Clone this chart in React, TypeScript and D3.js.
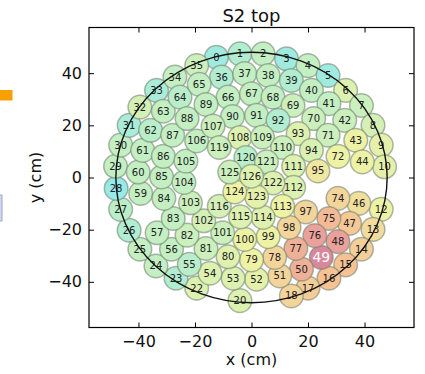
import React, { useEffect, useRef } from "react";
import * as d3 from "d3";

// module numbers and their centres (cm)
const moduleIds = [
  0, 1, 2, 3, 4, 5, 6, 7, 8, 9, 10, 12, 13, 14, 15, 16, 17, 18, 20, 22, 23, 24, 25, 26, 27, 28, 29, 30, 31, 32, 33, 34, 35,
  36, 37, 38, 39, 40, 41, 42, 43, 44, 46, 47, 48, 49, 50, 51, 52, 53, 54, 55, 56, 57, 59, 60, 61, 62, 63, 64, 65,
  66, 67, 68, 69, 70, 71, 72, 74, 75, 76, 77, 78, 79, 80, 81, 82, 83, 84, 85, 86, 87, 88, 89,
  90, 91, 92, 93, 94, 95, 97, 98, 99, 100, 101, 102, 103, 104, 105, 106, 107,
  108, 109, 110, 111, 112, 113, 114, 115, 116, 119,
  120, 121, 122, 123, 124, 125, 126,
];

const xCm = [
  -12.4, -4.1, 4.1, 12.4, 20.0, 27.1, 33.3, 38.9, 43.0, 45.9, 47.1, 45.9, 43.0, 38.9, 33.3, 27.4, 20.0, 14.1, -4.1, -19.4, -26.7, -33.8, -39.5, -43.3, -46.3, -47.9, -48.1, -46.3, -43.3, -39.5, -33.6, -27.1, -19.4,
  -10.6, -2.4, 5.9, 14.1, 21.2, 27.4, 33.0, 36.9, 39.2, 38.0, 34.7, 30.6, 24.7, 17.7, 10.0, 1.8, -6.5, -14.7, -22.0, -28.3, -33.4, -39.2, -40.1, -38.5, -35.7, -31.2, -25.3, -18.5,
  -8.3, 0.0, 7.6, 14.7, 22.0, 27.1, 30.6, 30.6, 27.4, 22.4, 15.7, 8.2, 0.0, -8.3, -16.1, -22.8, -27.7, -31.0, -31.8, -31.2, -27.9, -22.8, -16.1,
  -6.7, 1.8, 9.4, 16.5, 21.2, 23.5, 19.2, 13.3, 5.9, -2.4, -10.2, -16.9, -21.6, -23.9, -23.2, -19.4, -13.6,
  -4.1, 3.9, 11.0, 14.9, 14.9, 11.0, 4.1, -3.9, -11.4, -11.4,
  -2.0, 5.3, 7.6, 1.8, -5.9, -7.7, 0.0,
];

const yCm = [
  46.1, 47.4, 47.4, 45.5, 42.9, 39.1, 33.4, 27.6, 20.0, 12.4, 4.1, -12.2, -19.9, -27.5, -33.5, -38.6, -42.4, -45.4, -47.2, -42.4, -38.6, -33.9, -27.5, -20.2, -12.2, -4.2, 4.3, 12.4, 20.0, 27.0, 33.4, 38.5, 42.9,
  38.5, 39.8, 39.1, 37.2, 33.4, 28.3, 21.9, 14.3, 6.0, -9.9, -17.6, -24.6, -30.6, -35.1, -37.7, -39.0, -38.6, -36.7, -33.3, -27.5, -21.2, -6.1, 2.1, 10.4, 18.1, 25.4, 30.8, 35.7,
  30.8, 32.1, 30.8, 27.6, 22.6, 16.2, 8.1, -8.0, -15.7, -22.3, -27.2, -30.6, -31.6, -30.4, -27.2, -22.1, -15.7, -8.0, 0.2, 8.1, 16.2, 22.6, 28.0,
  23.4, 23.8, 21.9, 16.8, 10.4, 2.5, -13.2, -19.1, -22.7, -23.7, -21.2, -16.6, -9.7, -1.9, 6.3, 14.0, 19.7,
  15.3, 15.5, 11.5, 4.3, -3.8, -11.0, -15.3, -15.1, -11.0, 11.5,
  7.6, 6.0, -2.1, -7.4, -5.5, 2.1, 0.5,
];

// colour level per module (0 = cyan ... 1 = red)
const level = [
  0.05, 0.15, 0.25, 0.05, 0.25, 0.05, 0.4, 0.3, 0.35, 0.45, 0.45, 0.5, 0.62, 0.68, 0.75, 0.75, 0.7, 0.65, 0.4, 0.4, 0.15, 0.25, 0.25, 0.15, 0.2, 0.0, 0.25, 0.25, 0.1, 0.35, 0.1, 0.25, 0.3,
  0.15, 0.25, 0.25, 0.15, 0.25, 0.25, 0.3, 0.5, 0.5, 0.6, 0.72, 0.88, 1.0, 0.82, 0.65, 0.45, 0.4, 0.4, 0.2, 0.25, 0.25, 0.25, 0.25, 0.25, 0.2, 0.25, 0.2, 0.25,
  0.25, 0.25, 0.25, 0.3, 0.3, 0.3, 0.5, 0.65, 0.78, 0.88, 0.82, 0.65, 0.5, 0.42, 0.3, 0.3, 0.25, 0.25, 0.25, 0.25, 0.25, 0.25, 0.25,
  0.25, 0.25, 0.15, 0.4, 0.38, 0.55, 0.65, 0.65, 0.5, 0.5, 0.3, 0.35, 0.3, 0.25, 0.25, 0.25, 0.3,
  0.4, 0.3, 0.3, 0.4, 0.4, 0.5, 0.42, 0.4, 0.35, 0.3,
  0.2, 0.3, 0.4, 0.45, 0.5, 0.3, 0.4,
];

const ringRadius = 48;
const xTicks = [-40, -20, 0, 20, 40];
const yTicks = [-40, -20, 0, 20, 40];

const W = 425,
  H = 374;
const font = "DejaVu Sans, sans-serif";

function drawChart(el: SVGSVGElement) {
  const svg = d3.select(el);
  svg.selectAll("*").remove();

  const margin = { top: 27.5, right: 11, bottom: 46.5, left: 89 };
  const x = d3.scaleLinear().domain([-57.5, 57.5]).range([margin.left, W - margin.right]);
  const y = d3.scaleLinear().domain([-57.5, 57.5]).range([H - margin.bottom, margin.top]);

  const color = d3
    .scaleLinear<string>()
    .domain([0, 0.25, 0.5, 0.75, 0.9, 1])
    .range(["#97eae7", "#c3efc3", "#eef2a5", "#f6c294", "#e89c9d", "#d8889a"])
    .clamp(true);

  // bits of a neighbouring figure cut off at the left edge
  svg.append("rect").attr("x", 0).attr("y", 90).attr("width", 12.5).attr("height", 10.5).attr("fill", "#f7a000");
  svg
    .append("rect")
    .attr("x", -3)
    .attr("y", 195)
    .attr("width", 5)
    .attr("height", 26)
    .attr("fill", "#d4d6ee")
    .attr("stroke", "#9ea3cf")
    .attr("stroke-width", 1);

  const data = moduleIds.map((id, i) => ({ id, x: xCm[i], y: yCm[i], v: level[i] }));

  const g = svg.append("g");
  g.selectAll("circle")
    .data(data)
    .join("circle")
    .attr("cx", (d) => x(d.x))
    .attr("cy", (d) => y(d.y))
    .attr("r", 11.8)
    .attr("fill", (d) => color(d.v))
    .attr("stroke", "rgba(110,125,105,0.55)")
    .attr("stroke-width", 1.5);

  g.selectAll("text")
    .data(data)
    .join("text")
    .attr("x", (d) => x(d.x))
    .attr("y", (d) => y(d.y))
    .attr("dy", "0.35em")
    .attr("text-anchor", "middle")
    .attr("font-family", font)
    .attr("font-size", (d) => (d.id === 49 ? 14 : 10))
    .attr("fill", (d) => (d.id === 49 ? "#ffffff" : "#222"))
    .text((d) => d.id);

  // detector outline
  svg
    .append("ellipse")
    .attr("cx", x(0))
    .attr("cy", y(0))
    .attr("rx", x(ringRadius) - x(0))
    .attr("ry", y(0) - y(ringRadius))
    .attr("fill", "none")
    .attr("stroke", "#111")
    .attr("stroke-width", 1.4);

  const iH = H - margin.bottom;
  const iW = W - margin.right;

  // axes, ticks pointing inward on all sides
  const bottom = svg
    .append("g")
    .attr("transform", `translate(0,${iH})`)
    .call(d3.axisBottom(x).tickValues(xTicks).tickSizeInner(-5).tickSizeOuter(0).tickPadding(8));
  const left = svg
    .append("g")
    .attr("transform", `translate(${margin.left},0)`)
    .call(d3.axisLeft(y).tickValues(yTicks).tickSizeInner(-5).tickSizeOuter(0).tickPadding(7));
  svg
    .append("g")
    .attr("transform", `translate(0,${margin.top})`)
    .call(d3.axisTop(x).tickValues(xTicks).tickSizeInner(-5).tickSizeOuter(0).tickFormat(() => ""));
  svg
    .append("g")
    .attr("transform", `translate(${iW},0)`)
    .call(d3.axisRight(y).tickValues(yTicks).tickSizeInner(-5).tickSizeOuter(0).tickFormat(() => ""));

  svg.selectAll(".domain").remove();
  svg.selectAll(".tick line").attr("stroke", "#000").attr("stroke-width", 1);
  [bottom, left].forEach((a) =>
    a.selectAll("text").attr("font-family", font).attr("font-size", 16).attr("fill", "#111")
  );

  svg
    .append("rect")
    .attr("x", margin.left)
    .attr("y", margin.top)
    .attr("width", iW - margin.left)
    .attr("height", iH - margin.top)
    .attr("fill", "none")
    .attr("stroke", "#000")
    .attr("stroke-width", 1.2);

  svg
    .append("text")
    .attr("x", x(0))
    .attr("y", 22)
    .attr("text-anchor", "middle")
    .attr("font-family", font)
    .attr("font-size", 18)
    .attr("fill", "#111")
    .text("S2 top");

  svg
    .append("text")
    .attr("x", x(0))
    .attr("y", 365)
    .attr("text-anchor", "middle")
    .attr("font-family", font)
    .attr("font-size", 16)
    .attr("fill", "#111")
    .text("x (cm)");

  svg
    .append("text")
    .attr("transform", `translate(41,${y(0)}) rotate(-90)`)
    .attr("text-anchor", "middle")
    .attr("font-family", font)
    .attr("font-size", 16)
    .attr("fill", "#111")
    .text("y (cm)");
}

export default function App() {
  const ref = useRef<SVGSVGElement>(null);
  useEffect(() => {
    if (ref.current) drawChart(ref.current);
  }, []);
  return (
    <svg
      ref={ref}
      width={W}
      height={H}
      style={{ position: "absolute", left: 0, top: 0, background: "#fff" }}
    />
  );
}
